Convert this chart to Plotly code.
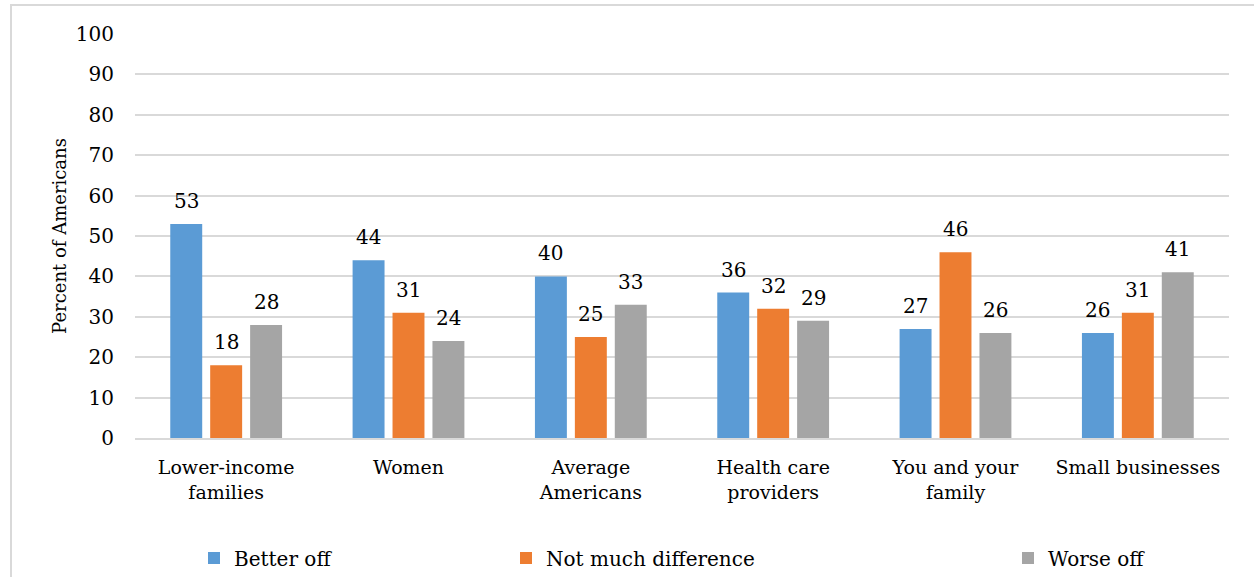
import plotly.graph_objects as go

# Survey groups and the share of Americans in each response
categories = [
    "Lower-income<br>families",
    "Women",
    "Average<br>Americans",
    "Health care<br>providers",
    "You and your<br>family",
    "Small businesses",
]
better_off = [53, 44, 40, 36, 27, 26]
not_much_difference = [18, 31, 25, 32, 46, 31]
worse_off = [28, 24, 33, 29, 26, 41]

series = [
    ("Better off", better_off, "#5B9BD5", "legend"),
    ("Not much difference", not_much_difference, "#ED7D31", "legend2"),
    ("Worse off", worse_off, "#A5A5A5", "legend3"),
]

FONT = "DejaVu Serif"
W, H = 1254, 577
ML, MR, MT, MB = 135, 25, 34, 139

fig = go.Figure()
for name, values, color, leg in series:
    fig.add_trace(go.Bar(
        x=categories,
        y=values,
        name=name,
        marker=dict(color=color, line=dict(color=color, width=0)),
        legend=leg,
        showlegend=True,
    ))

# Value labels above each bar, offset to match the grouped bar positions
offsets = [-40, 0, 40]
for (name, values, color, leg), dx in zip(series, offsets):
    for cat, v in zip(categories, values):
        fig.add_annotation(
            x=cat, y=v, text=str(v), showarrow=False,
            xanchor="center", yanchor="bottom", xshift=dx, yshift=9,
            font=dict(family=FONT, size=20, color="#000000"),
        )

plot_w = W - ML - MR
plot_h = H - MT - MB

# Outer chart border
fig.add_shape(
    type="rect", xref="paper", yref="paper",
    x0=(11 - ML) / plot_w, x1=(W + 10 - ML) / plot_w,
    y0=-(H + 10 - MT - plot_h) / plot_h, y1=1 + (MT - 5) / plot_h,
    line=dict(color="#D9D9D9", width=2), fillcolor="rgba(0,0,0,0)",
    layer="below",
)

legend_common = dict(
    orientation="h", yref="container", xref="container",
    yanchor="middle", y=(H - 558) / H,
    xanchor="left", font=dict(family=FONT, size=20, color="#000000"),
    bgcolor="rgba(0,0,0,0)", itemwidth=30,
)

fig.update_layout(
    width=W, height=H,
    margin=dict(l=ML, r=MR, t=MT, b=MB, autoexpand=False),
    paper_bgcolor="white", plot_bgcolor="white",
    showlegend=True,
    barmode="group", bargap=0.343, bargroupgap=0.2,
    font=dict(family=FONT, size=20, color="#000000"),
    legend=dict(legend_common, x=194 / W),
    legend2=dict(legend_common, x=506 / W),
    legend3=dict(legend_common, x=1008 / W),
    xaxis=dict(
        showgrid=False, showline=True, linecolor="#D9D9D9", linewidth=2,
        ticks="", ticklabelstandoff=11,
        tickfont=dict(family=FONT, size=19, color="#000000"),
    ),
    yaxis=dict(
        range=[0, 100], dtick=10, showgrid=True, gridcolor="#D9D9D9",
        gridwidth=2, zeroline=False, showline=False, ticks="",
        ticklabelstandoff=20,
        tickfont=dict(family=FONT, size=20, color="#000000"),
        title=dict(text="Percent of Americans",
                   font=dict(family=FONT, size=18, color="#000000"),
                   standoff=4),
    ),
)

fig.write_html("out.html")
